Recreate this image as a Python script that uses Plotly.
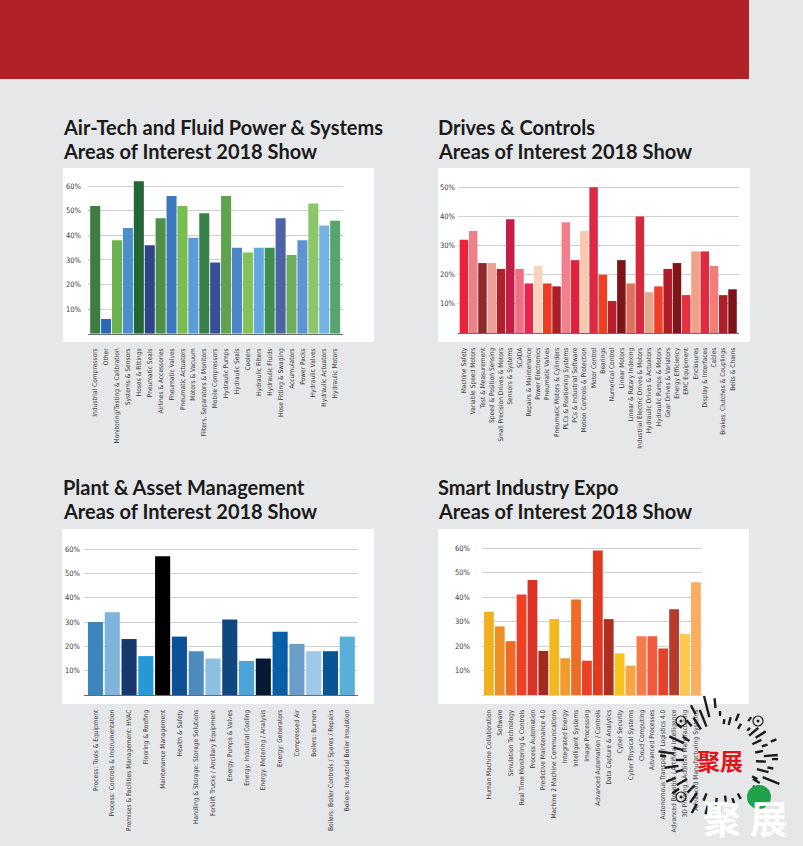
"""Areas of interest bar charts for the four 2018 show sections, laid out as a brochure page."""
import math

import plotly.graph_objects as go

W, H = 803, 846
PAGE_BG = "#e6e7e8"
BANNER = "#b22126"
LABEL_FONT = "DejaVu Sans Condensed, Roboto"
TITLE_FONT = "Lato"

# ---------------------------------------------------------------------------
# data
# ---------------------------------------------------------------------------
air_labels = ["Industrial Compressors", "Other", "Monitoring/Testing & Calibration", "Systems & Sensors",
              "Hoses & Fittings", "Pneumatic Seals", "Airlines & Accessories", "Pneumatic Valves",
              "Pneumatic Actuators", "Motors & Vacuum", "Filters, Separators & Monitors", "Mobile Compressors",
              "Hydraulic Pumps", "Hydraulic Seals", "Coolers", "Hydraulic Filters", "Hydraulic Fluids",
              "Hose Fitting & Swaging", "Accumulators", "Power Packs", "Hydraulic Valves",
              "Hydraulic Actuators", "Hydraulic Motors"]
air_values = [52, 6, 38, 43, 62, 36, 47, 56, 52, 39, 49, 29, 56, 35, 33, 35, 35, 47, 32, 38, 53, 44, 46]
air_colors = ["#3e7d42", "#2a6ab5", "#6ab24f", "#4b8fcd", "#236638", "#2e4587", "#4f9048", "#3c78c0",
              "#77bd50", "#5b9bd8", "#37814a", "#36509a", "#5fa24f", "#4a86c8", "#85c155", "#62a8df",
              "#3f8f50", "#4e62a8", "#6fae5c", "#5b94d0", "#8cc66a", "#74b2e2", "#55a56c"]

drive_labels = ["Machine Safety", "Variable Speed Motors", "Test & Measurement", "Speed & Position Sensing",
                "Small Precision Drives & Motors", "Sensors & Systems", "SCADA", "Repairs & Maintenance",
                "Power Electronics", "Pneumatic Valves", "Pneumatic Motors & Cylinders",
                "PLCs & Positioning Systems", "PCs & Industrial Software", "Motion Controls & Protection",
                "Motor Control", "Bearings", "Numerical Control", "Linear Motors", "Linear & Rotary Indexing",
                "Industrial Electric Drives & Motors", "Hydraulic Drives & Actuators", "Hydraulic Pumps & Motors",
                "Gear Drives & Variators", "Energy Efficiency", "EMC Equipment", "Enclosures",
                "Display & Interfaces", "Cables", "Brakes, Clutches & Couplings", "Belts & Chains"]
drive_values = [32, 35, 24, 24, 22, 39, 22, 17, 23, 17, 16, 38, 25, 35, 50, 20, 11, 25, 17, 40, 14, 16, 22, 24,
                13, 28, 28, 23, 13, 15]
drive_colors = ["#ec2338", "#f07f86", "#8e2a2e", "#eba096", "#b21e2a", "#c41e48", "#ee6f85", "#e82550",
                "#fbd2bb", "#ee3c24", "#ac1f2a", "#f47f8a", "#e4203a", "#f8c9ae", "#dc2a44", "#ee3f24",
                "#b81f2c", "#7c1418", "#e0705c", "#d62a3c", "#e8a48c", "#ee3f28", "#b01c28", "#801418",
                "#e43040", "#f3a184", "#e02a40", "#f47c78", "#ae1e2a", "#7e1218"]

plant_labels = ["Process: Tools & Equipment", "Process: Controls & Instrumentation",
                "Premises & Facilities Management: HVAC", "Flooring & Roofing", "Maintenance Management",
                "Health & Safety", "Handling & Storage: Storage Solutions", "Forklift Trucks / Ancillary Equipment",
                "Energy: Pumps & Valves", "Energy: Industrial Cooling", "Energy: Metering / Analysis",
                "Energy: Generators", "Compressed Air", "Boilers: Burners",
                "Boilers: Boiler Controls / Spares / Repairs", "Boilers: Industrial Boiler Insulation"]
plant_values = [30, 34, 23, 16, 57, 24, 18, 15, 31, 14, 15, 26, 21, 18, 18, 24]
plant_colors = ["#3d85bd", "#7fb5da", "#17386f", "#2499d6", "#000000", "#0a5196", "#4e8cc0", "#8dbfe0",
                "#11467f", "#4aa3d9", "#071a33", "#085ea6", "#6a9dca", "#9dc8e8", "#075592", "#5aaeda"]

smart_labels = ["Human Machine Collaboration", "Software", "Simulation Technology",
                "Real Time Monitoring & Controls", "Process Automation", "Predictive Maintenance 4.0",
                "Machine 2 Machine Communications", "Integrated Energy", "Intelligent Systems", "Image Processing",
                "Advanced Automation / Controls", "Data Capture & Analytics", "Cyber Security",
                "Cyber Physical Systems", "Cloud Computing", "Advanced Processes",
                "Autonomous Transport / Logistics 4.0", "Advanced Robotics / Artificial Intelligence",
                "3D Printing / Additive Manufacturing", "Advanced Manufacturing Systems"]
smart_values = [34, 28, 22, 41, 47, 18, 31, 15, 39, 14, 59, 31, 17, 12, 24, 24, 19, 35, 25, 46]
smart_colors = ["#f0b020", "#ee8f26", "#ef6a25", "#ef4023", "#d93526", "#a12a1f", "#f3b81c", "#f29a2e",
                "#f06c26", "#ea4226", "#e13a20", "#ae2f22", "#f6c321", "#f7a441", "#f47c46", "#f15a3c",
                "#e3432a", "#b83a2a", "#fcc84e", "#fbae5e"]

ticks_to_60 = [10, 20, 30, 40, 50, 60]
ticktext_60 = ["10%", "20%", "30%", "40%", "50%", "60%"]
ticks_to_50 = [10, 20, 30, 40, 50]
ticktext_50 = ["10%", "20%", "30%", "40%", "50%"]

# the code stamp in the corner: angle (deg), inner radius, outer radius in px
qr_strokes = [(104, 44, 66), (95, 52, 62), (90, 44, 49), (84, 36, 41), (76, 36, 44), (68, 42, 50), (112, 36, 54),
              (118, 52, 62), (122, 36, 50), (130, 44, 52), (60, 36, 42), (54, 48, 53), (40, 38, 50), (47, 40, 44),
              (32, 42, 54), (26, 36, 46), (18, 44, 50), (12, 36, 44), (20, 54, 60), (5, 44, 58), (-2, 36, 46),
              (-9, 48, 54), (1, 52, 58), (-14, 38, 50), (-22, 46, 64), (-30, 38, 46), (-38, 42, 50), (-27, 36, 42),
              (-62, 38, 44), (-72, 40, 48), (-82, 36, 42), (-90, 46, 52), (-95, 38, 46), (-105, 44, 56),
              (-112, 36, 44), (-125, 40, 52), (-135, 36, 46), (-118, 50, 60), (-150, 38, 50), (-158, 48, 58),
              (-165, 38, 46), (-172, 42, 56), (180, 36, 44), (172, 46, 62), (165, 38, 48), (155, 40, 56),
              (148, 36, 44), (140, 50, 56), (176, 54, 60), (-145, 50, 58)]
qr_finders = [(681, 721), (758, 721), (681, 797)]

# ---------------------------------------------------------------------------
# layout of each panel, in page pixels
# ---------------------------------------------------------------------------
panels = [
    dict(title="Air-Tech and Fluid Power & Systems", labels=air_labels, values=air_values, colors=air_colors,
         card=(63, 168, 374, 342), title_x=60.5, title_y=127, left=88, right=343, top=180, base=333.7,
         yr=62.55, xr=(-0.66, 22.72), ticks=ticks_to_60, ticktext=ticktext_60, standoff=6, gap=0.08, line="#6b6b6b"),
    dict(title="Drives & Controls", labels=drive_labels, values=drive_values, colors=drive_colors,
         card=(438, 168, 750, 342), title_x=435.5, title_y=127, left=458, right=739, top=180, base=333,
         yr=52.5, xr=(-0.64, 29.7), ticks=ticks_to_50, ticktext=ticktext_50, standoff=2, gap=0.08, line="#6b6b6b"),
    dict(title="Plant & Asset Management", labels=plant_labels, values=plant_values, colors=plant_colors,
         card=(62, 529, 374, 704), title_x=60.5, title_y=487, left=84, right=358, top=540, base=695,
         yr=63.7, xr=(-0.685, 15.64), ticks=ticks_to_60, ticktext=ticktext_60, standoff=3, gap=0.1, line="#6b6b6b"),
    dict(title="Smart Industry Expo", labels=smart_labels, values=smart_values, colors=smart_colors,
         card=(438, 529, 749, 704), title_x=435.5, title_y=487, left=482, right=702, top=540, base=695,
         yr=63.3, xr=(-0.63, 19.56), ticks=ticks_to_60, ticktext=ticktext_60, standoff=11, gap=0.1, line="#d4d4d4"),
]


def px(x):
    return x / W


def py(y):
    return 1 - y / H


fig = go.Figure()
shapes = [dict(type="rect", xref="paper", yref="paper", x0=0, x1=px(749), y0=py(79), y1=1,
               fillcolor=BANNER, line_width=0, layer="below")]
annotations = []
layout_axes = {}

for i, p in enumerate(panels, start=1):
    xname = f"x{i}" if i > 1 else "x"
    yname = f"y{i}" if i > 1 else "y"
    fig.add_trace(go.Bar(x=p["labels"], y=p["values"], width=1 - p["gap"],
                         marker=dict(color=p["colors"], line_width=0),
                         xaxis=xname, yaxis=yname, showlegend=False))
    layout_axes[f"xaxis{i}"] = dict(
        domain=[px(p["left"]), px(p["right"])], anchor=yname, type="category", range=list(p["xr"]),
        tickmode="array", tickvals=p["labels"], ticktext=p["labels"], tickangle=-90,
        tickfont=dict(family=LABEL_FONT, size=6.6, color="#3a3a3a"), ticklabelstandoff=11,
        showline=True, linecolor=p["line"], linewidth=1, showgrid=False, ticks="", automargin=False)
    layout_axes[f"yaxis{i}"] = dict(
        domain=[py(p["base"]), py(p["top"])], anchor=xname, range=[0, p["yr"]],
        tickmode="array", tickvals=p["ticks"], ticktext=p["ticktext"],
        tickfont=dict(family=LABEL_FONT, size=7.5, color="#3a3a3a"), ticklabelstandoff=p["standoff"],
        showgrid=True, gridcolor="#d0d0d0", gridwidth=1, zeroline=False, showline=False, ticks="",
        automargin=False)
    x0, y0, x1, y1 = p["card"]
    shapes.append(dict(type="rect", xref="paper", yref="paper", x0=px(x0), x1=px(x1), y0=py(y1), y1=py(y0),
                       fillcolor="white", line_width=0, layer="below"))
    for text, y in ((p["title"], p["title_y"]), ("Areas of Interest 2018 Show", p["title_y"] + 24)):
        annotations.append(dict(text=f"<b>{text}</b>", xref="paper", yref="paper", x=px(p["title_x"]), y=py(y),
                                xanchor="left", yanchor="middle", showarrow=False,
                                font=dict(family=TITLE_FONT, size=20, color="#1a1a1a")))

# stamp over the bottom corner
cx, cy = 720, 760
for angle, r0, r1 in qr_strokes:
    a = math.radians(angle)
    shapes.append(dict(type="line", xref="paper", yref="paper",
                       x0=px(cx + r0 * math.cos(a)), y0=py(cy - r0 * math.sin(a)),
                       x1=px(cx + r1 * math.cos(a)), y1=py(cy - r1 * math.sin(a)),
                       line=dict(color="#1c1c1c", width=2.4)))
for fx, fy in qr_finders:
    shapes.append(dict(type="circle", xref="paper", yref="paper", x0=px(fx - 5), x1=px(fx + 5),
                       y0=py(fy + 5), y1=py(fy - 5), line=dict(color="#1c1c1c", width=1.2)))
    shapes.append(dict(type="circle", xref="paper", yref="paper", x0=px(fx - 1.5), x1=px(fx + 1.5),
                       y0=py(fy + 1.5), y1=py(fy - 1.5), fillcolor="#1c1c1c", line_width=0))
shapes.append(dict(type="circle", xref="paper", yref="paper", x0=px(747), x1=px(771), y0=py(809), y1=py(785),
                   fillcolor="#1fa24a", line_width=0))
annotations.append(dict(text="<b>聚展</b>", xref="paper", yref="paper", x=px(720), y=py(760),
                        xanchor="center", yanchor="middle", showarrow=False,
                        font=dict(family="Noto Sans CJK SC", size=23, color="#e1141c")))
annotations.append(dict(text="<b>聚&nbsp;展</b>", xref="paper", yref="paper", x=px(745), y=py(816),
                        xanchor="center", yanchor="middle", showarrow=False,
                        font=dict(family="Noto Sans CJK SC", size=38, color="white")))

fig.update_layout(width=W, height=H, margin=dict(l=0, r=0, t=0, b=0), autosize=False,
                  paper_bgcolor=PAGE_BG, plot_bgcolor="rgba(0,0,0,0)",
                  shapes=shapes, annotations=annotations, **layout_axes)

fig.write_html("out.html", config={"displayModeBar": False},
               post_script="document.body.style.margin='0';document.body.style.overflow='hidden';")
